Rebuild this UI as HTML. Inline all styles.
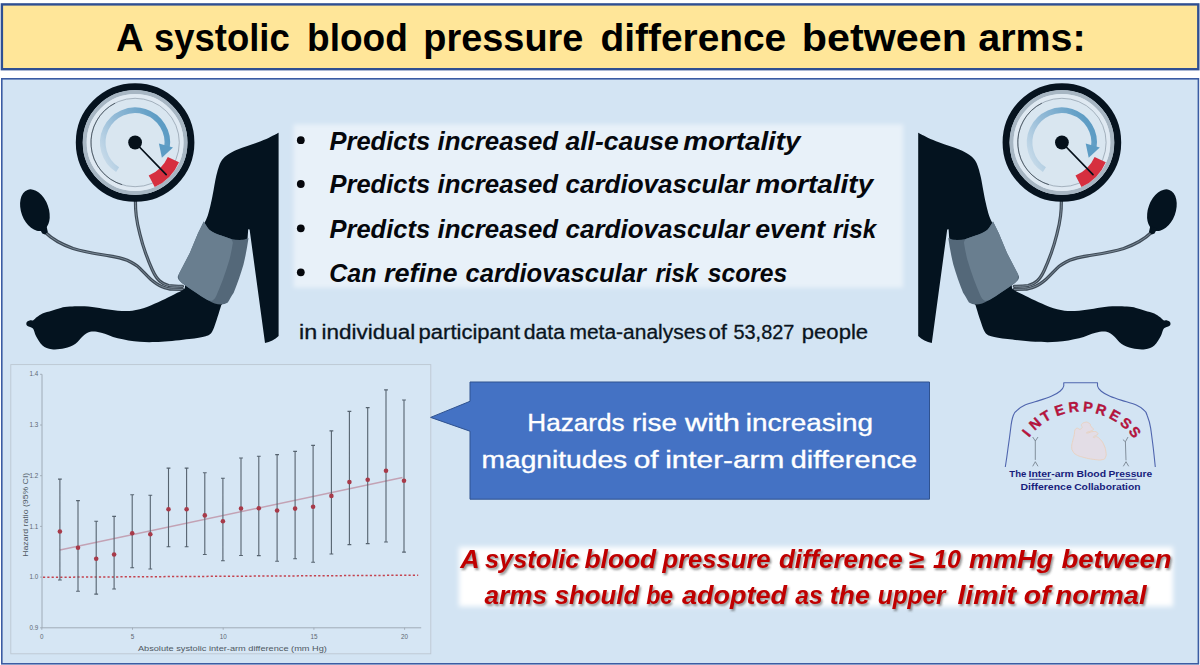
<!DOCTYPE html>
<html lang="en">
<head>
<meta charset="utf-8">
<title>A systolic blood pressure difference between arms</title>
<style>
html,body{margin:0;padding:0;background:#ffffff;}
body{width:1200px;height:665px;overflow:hidden;font-family:"Liberation Sans",sans-serif;}
svg{display:block;position:absolute;left:0;top:0;}
text{font-family:"Liberation Sans",sans-serif;}
</style>
</head>
<body>
<svg width="1200" height="665" viewBox="0 0 1200 665">
<defs>
  <filter id="soft" x="-5%" y="-10%" width="110%" height="120%"><feGaussianBlur stdDeviation="2.2"/></filter>
  <filter id="soft2" x="-5%" y="-20%" width="110%" height="140%"><feGaussianBlur stdDeviation="2.6"/></filter>
  <filter id="tshadow" x="-5%" y="-20%" width="110%" height="150%"><feGaussianBlur stdDeviation="1.1"/></filter>
  <linearGradient id="arrowgrad" gradientUnits="userSpaceOnUse" x1="-30" y1="20" x2="30" y2="-10">
    <stop offset="0" stop-color="#c6dae9"/>
    <stop offset="0.42" stop-color="#94bbd7"/>
    <stop offset="1" stop-color="#5d9cc4"/>
  </linearGradient>

  <!-- GAUGE (centred on 0,0) -->
  <g id="gauge">
    <circle r="55.8" fill="#d9e6f0" stroke="#06131f" stroke-width="7"/>
    <circle r="50.4" fill="none" stroke="#a7b6c3" stroke-width="4"/>
    <circle r="46.6" fill="none" stroke="#dfe9f2" stroke-width="3.6"/>
    <circle r="44.2" fill="none" stroke="#8e9ba8" stroke-width="0.7"/>
    <path d="M -20,-39.4 A 44.2 44.2 0 0 0 -13,42.2" fill="none" stroke="#3b4753" stroke-width="0.8"/>
    <!-- blue arrow -->
    <path d="M -17.5,27.2 A 32.3 32.3 0 1 1 31.8,5.5" fill="none" stroke="url(#arrowgrad)" stroke-width="5.6"/>
    <path d="M 23.8,1 L 37.9,4.9 L 26.8,15.2 Z" fill="#5d9cc4"/>
    <!-- red zone -->
    <path d="M 32.7,14.6 A 35.8 35.8 0 0 1 13.6,33.1 L 19.6,44.6 A 48.2 48.2 0 0 0 43.9,19.8 Z" fill="#d62f3f"/>
    <!-- needle -->
    <path d="M 0,0 L 31.1,32.2" stroke="#05101a" stroke-width="1.7" stroke-linecap="round"/>
    <circle r="6.9" fill="#05101a"/>
  </g>

  <!-- ARM (left version, absolute coordinates) -->
  <g id="arm">
    <!-- tubes -->
    <g fill="none" stroke-linecap="round">
      <path id="tubeA" d="M 45.5,232.5 C 52,239 62,244.5 73.1,248.5 C 86,252.5 98,254 109.2,255.8 C 117,257 123,258.5 127.2,260.3 C 133,263 137,265.5 139.9,268.4 C 144,272.5 147,276 150.7,279.2 C 154.5,282.5 158,285 161.5,286.4 C 166,288.3 170,289.1 172.3,289.1 L 182.5,289.4" stroke="#3f4b57" stroke-width="3.2"/>
      <path d="M 45.5,232.5 C 52,239 62,244.5 73.1,248.5 C 86,252.5 98,254 109.2,255.8 C 117,257 123,258.5 127.2,260.3 C 133,263 137,265.5 139.9,268.4 C 144,272.5 147,276 150.7,279.2 C 154.5,282.5 158,285 161.5,286.4 C 166,288.3 170,289.1 172.3,289.1 L 182.5,289.4" stroke="#8898a6" stroke-width="0.8"/>
      <path d="M 135.4,200 C 135.4,206 135.6,211 136.3,216.1 C 137,222 138.3,228 139.9,234.1 C 141.5,240.5 143.2,246.5 145.3,252.2 C 147.5,258.5 149.8,264.5 152.5,270.2 C 154.5,274.5 156.8,278.3 159.7,281 C 162.3,283.4 165.3,284.8 168.7,285.5 C 173,286.2 177,286.3 182.5,286.3" stroke="#3f4b57" stroke-width="3.2"/>
      <path d="M 135.4,200 C 135.4,206 135.6,211 136.3,216.1 C 137,222 138.3,228 139.9,234.1 C 141.5,240.5 143.2,246.5 145.3,252.2 C 147.5,258.5 149.8,264.5 152.5,270.2 C 154.5,274.5 156.8,278.3 159.7,281 C 162.3,283.4 165.3,284.8 168.7,285.5 C 173,286.2 177,286.3 182.5,286.3" stroke="#8898a6" stroke-width="0.8"/>
    </g>
    <!-- bulb -->
    <g fill="#04131f">
      <ellipse cx="34.9" cy="210.2" rx="13.7" ry="21.6" transform="rotate(-20 34.9 210.2)"/>
      <path d="M 39.5,228.5 L 46.5,226 L 47.8,232 L 45,234.6 L 42.3,233.6 Z"/>
    </g>
    <!-- body -->
    <path fill="#04131f" d="M 278.6,132.8 C 277.0,133.6 272.4,136.1 269.0,137.7 C 265.6,139.3 261.6,140.9 258.0,142.3 C 254.4,143.7 250.8,144.8 247.3,146.0 C 243.8,147.2 240.2,148.4 237.0,149.8 C 233.8,151.2 230.5,152.8 228.0,154.5 C 225.5,156.2 223.6,157.8 222.0,160.0 C 220.4,162.2 219.5,164.7 218.5,167.7 C 217.5,170.7 216.6,174.4 215.8,178.0 C 215.0,181.6 214.5,185.2 213.7,189.4 C 212.9,193.6 212.0,198.6 211.0,203.0 C 210.0,207.4 208.8,212.5 207.7,215.8 C 206.6,219.1 205.0,221.8 204.5,223.0 L 185,286 C 184.8,286.6 185.4,288.2 183.7,289.6 C 181.9,291.0 178.2,292.4 174.5,294.2 C 170.8,296.0 166.3,298.5 161.7,300.6 C 157.1,302.7 151.9,305.3 147.0,307.0 C 142.1,308.7 137.2,310.1 132.3,310.7 C 127.4,311.3 122.6,311.0 117.7,310.7 C 112.8,310.4 107.9,309.5 103.0,308.8 C 98.1,308.1 93.8,307.0 88.3,306.6 C 82.8,306.2 74.6,306.4 70.0,306.6 C 65.4,306.8 63.8,307.2 60.8,307.9 C 57.8,308.6 54.8,309.8 51.7,310.7 C 48.7,311.6 45.0,312.3 42.5,313.4 C 40.0,314.5 38.5,316.0 37.0,317.1 C 35.5,318.2 34.5,319.6 33.3,320.2 C 32.1,320.8 30.8,320.1 29.7,320.4 C 28.6,320.7 27.6,321.2 27.0,321.8 C 26.4,322.4 26.3,323.2 26.3,323.9 C 26.3,324.6 26.7,325.3 27.2,325.8 C 27.7,326.3 28.3,326.3 29.3,326.8 C 30.3,327.3 32.2,327.4 33.3,329.0 C 34.4,330.6 34.6,333.6 36.1,336.3 C 37.6,339.1 39.9,343.4 42.5,345.5 C 45.1,347.6 48.0,348.7 51.7,349.2 C 55.4,349.7 60.5,349.2 64.5,348.2 C 68.5,347.3 72.5,345.7 75.5,343.7 C 78.5,341.7 80.3,338.3 82.8,336.3 C 85.2,334.3 87.1,332.4 90.2,331.8 C 93.3,331.1 96.6,331.6 101.2,332.7 C 105.8,333.8 111.3,336.7 117.7,338.2 C 124.1,339.7 132.4,341.2 139.7,341.8 C 147.0,342.4 153.4,342.2 161.7,341.8 C 169.9,341.4 181.9,340.0 189.2,339.1 C 196.5,338.2 201.9,337.5 205.7,336.3 C 209.5,335.1 210.3,334.5 212.1,331.8 C 213.9,329.0 215.2,324.2 216.7,319.8 C 218.2,315.4 220.5,307.6 221.2,305.2 L 226,300 L 247.6,238 L 248.2,229.2 L 249.6,229.5 L 265,343 C 270,342 275,339.5 278.6,336 Z"/>
    <!-- cuff -->
    <path fill="#546879" d="M 203.8,221.6 C 205.5,224.5 207,227.5 209.6,229.9 C 213,232.5 217,234.2 221.2,235.6 C 224.5,236.8 228,238 231.1,238.9 C 235,239.7 239,240.2 242.7,239.8 C 245,239.5 247,238.9 248.5,238.1 C 247.2,247 245.6,256 243.5,264.6 C 240.8,274 237.4,283.5 233.7,292.7 C 231.3,296.2 229.7,299.5 227.8,302.6 C 225.8,303.8 223.5,304.5 221.2,304.6 C 219,304.6 216.7,304.2 214.6,303.5 C 210,301.5 205.5,298.8 201.4,296 C 195.8,292.5 190.2,289 184.8,285.3 C 182.7,283.8 180.7,282.2 179,280.3 C 177.9,279 177.5,277.5 177.9,276.2 C 178.1,275.3 178.5,274.5 179,273.7 L 189.8,253 L 198,233.2 Z"/>
    <path fill="#697e8f" d="M 203.8,221.6 C 205.5,224.5 207,227.5 209.6,229.9 C 213,232.5 217,234.2 221.2,235.6 C 224.5,236.8 228,238 231.1,238.9 C 232.3,240 232.8,241.5 232.8,243.1 C 232,248.7 230.8,254.2 229.5,259.6 C 227.5,266.3 225.3,273 222.9,279.5 C 220.8,285.1 218.6,290.6 216.2,296 C 215.4,297.8 214.3,299.2 212.9,300.2 C 211,301.2 209,300.8 207.3,300 C 203,297.6 199,294.8 195,292 C 190.5,289 186,286 182,282.8 C 180.3,281.3 179.2,279.8 179,278 C 178.8,276.5 178.7,275 179,273.7 L 189.8,253 L 198,233.2 Z"/>
  </g>
</defs>

<!-- page -->
<rect width="1200" height="665" fill="#ffffff"/>

<!-- title bar -->
<rect x="1.9" y="4.4" width="1196.4" height="64.8" fill="#ffe699" stroke="#2f4f93" stroke-width="2.4"/>
<!-- SECTION: title -->
<g font-size="38.5" font-weight="700" font-style="normal" fill="#000000">
<text transform="translate(116.01 51.3) scale(0.9903 1)">A</text>
<text transform="translate(154.08 51.3) scale(0.9467 1)">systolic</text>
<text transform="translate(307.09 51.3) scale(0.9624 1)">blood</text>
<text transform="translate(423.29 51.3) scale(0.9843 1)">pressure</text>
<text transform="translate(600.49 51.3) scale(1.0097 1)">difference</text>
<text transform="translate(801.82 51.3) scale(1.0720 1)">between</text>
<text transform="translate(978.22 51.3) scale(1.0250 1)">arms:</text>
</g>
<!-- END: title -->

<!-- main panel -->
<rect x="1.8" y="78.8" width="1196.6" height="585" fill="#d3e4f3" stroke="#3b5ca3" stroke-width="1.6"/>

<!-- SECTION: arms -->
<use href="#arm"/>
<use href="#gauge" transform="translate(135.1 142.5)"/>
<use href="#arm" transform="translate(1196.8 0) scale(-1 1)"/>
<use href="#gauge" transform="translate(1061.9 142.5)"/>

<!-- SECTION: bullets -->
<rect x="293.6" y="124.3" width="609.6" height="163.4" fill="#ffffff" fill-opacity="0.48" filter="url(#soft)"/>
<g fill="#05070c">
<circle cx="300.8" cy="140.2" r="3.9"/><circle cx="300.8" cy="184" r="3.9"/><circle cx="300.8" cy="228.3" r="3.9"/><circle cx="300.8" cy="272.3" r="3.9"/>
</g>
<!--T--><g font-size="25" font-weight="700" font-style="italic" fill="#05070c">
<text transform="translate(329.49 149.6) scale(1.0206 1)">Predicts</text>
<text transform="translate(437.48 149.6) scale(1.0326 1)">increased</text>
<text transform="translate(565.49 149.6) scale(1.0590 1)">all-cause</text>
<text transform="translate(683.19 149.6) scale(1.1118 1)">mortality</text>
<text transform="translate(329.49 193.4) scale(1.0206 1)">Predicts</text>
<text transform="translate(437.48 193.4) scale(1.0326 1)">increased</text>
<text transform="translate(565.47 193.4) scale(1.0413 1)">cardiovascular</text>
<text transform="translate(755.44 193.4) scale(1.1151 1)">mortality</text>
<text transform="translate(329.49 238.0) scale(1.0206 1)">Predicts</text>
<text transform="translate(437.48 238.0) scale(1.0326 1)">increased</text>
<text transform="translate(565.47 238.0) scale(1.0413 1)">cardiovascular</text>
<text transform="translate(755.20 238.0) scale(1.0728 1)">event</text>
<text transform="translate(833.01 238.0) scale(0.9721 1)">risk</text>
<text transform="translate(329.25 281.6) scale(1.0000 1)">Can</text>
<text transform="translate(383.96 281.6) scale(1.0821 1)">refine</text>
<text transform="translate(465.48 281.6) scale(1.0226 1)">cardiovascular</text>
<text transform="translate(655.52 281.6) scale(0.9609 1)">risk</text>
<text transform="translate(707.75 281.6) scale(0.9862 1)">scores</text>
</g>
<g font-size="19.4" font-weight="400" font-style="normal" fill="#0a1420" stroke="#0a1420" stroke-width="0.3">
<text transform="translate(299.00 338.8) scale(1.2000 1)">in</text>
<text transform="translate(321.55 338.8) scale(1.1597 1)">individual</text>
<text transform="translate(418.58 338.8) scale(1.1364 1)">participant</text>
<text transform="translate(523.68 338.8) scale(1.0946 1)">data</text>
<text transform="translate(569.40 338.8) scale(1.0827 1)">meta-analyses</text>
<text transform="translate(708.39 338.8) scale(1.1452 1)">of</text>
<text transform="translate(733.48 338.8) scale(1.0261 1)">53,827</text>
<text transform="translate(801.83 338.8) scale(1.1384 1)">people</text>
</g><!--/T-->
<!-- END: bullets -->
<!-- SECTION: chart -->
<g id="chart">
<rect x="10.8" y="364.6" width="420" height="289.2" fill="#d6e6f4" stroke="#bcc7d1" stroke-width="0.9"/>
<path d="M 42,374.3 V 627.8 H 421.2" fill="none" stroke="#9aa5b0" stroke-width="0.9"/>
<text x="38.3" y="376.4" font-size="6.3" fill="#5d6872" text-anchor="end">1.4</text>
<text x="38.3" y="427.1" font-size="6.3" fill="#5d6872" text-anchor="end">1.3</text>
<text x="38.3" y="477.8" font-size="6.3" fill="#5d6872" text-anchor="end">1.2</text>
<text x="38.3" y="528.5" font-size="6.3" fill="#5d6872" text-anchor="end">1.1</text>
<text x="38.3" y="579.2" font-size="6.3" fill="#5d6872" text-anchor="end">1.0</text>
<text x="38.3" y="629.9" font-size="6.3" fill="#5d6872" text-anchor="end">0.9</text>
<text x="41.8" y="638.6" font-size="6.3" fill="#5d6872" text-anchor="middle">0</text>
<text x="132.5" y="638.6" font-size="6.3" fill="#5d6872" text-anchor="middle">5</text>
<text x="223.2" y="638.6" font-size="6.3" fill="#5d6872" text-anchor="middle">10</text>
<text x="313.9" y="638.6" font-size="6.3" fill="#5d6872" text-anchor="middle">15</text>
<text x="404.6" y="638.6" font-size="6.3" fill="#5d6872" text-anchor="middle">20</text>
<path d="M 40,374.3 H 42 M 40,425.0 H 42 M 40,475.7 H 42 M 40,526.4 H 42 M 40,577.1 H 42 M 40,627.8 H 42 M 41.8,627.8 V 629.8 M 132.5,627.8 V 629.8 M 223.2,627.8 V 629.8 M 313.9,627.8 V 629.8 M 404.6,627.8 V 629.8" stroke="#9aa5b0" stroke-width="0.8" fill="none"/>
<text x="232.4" y="651" font-size="8" fill="#4f5963" text-anchor="middle" textLength="189" lengthAdjust="spacingAndGlyphs">Absolute systolic inter-arm difference (mm Hg)</text>
<text transform="translate(27.6 514.8) rotate(-90)" font-size="8" fill="#4f5963" text-anchor="middle" textLength="84" lengthAdjust="spacingAndGlyphs">Hazard ratio (95% CI)</text>
<path d="M 59.9,549.9 L 402.5,477.6" stroke="#c3a2b4" stroke-width="1.5" fill="none"/>
<path d="M 43,577.3 L 418.2,575.2" stroke="#c4434f" stroke-width="1.5" stroke-dasharray="2.2 2.1" fill="none"/>
<path d="M 59.9,479.1 V 580.0 M 58.0,479.1 H 61.8 M 58.0,580.0 H 61.8 M 78.0,500.6 V 591.3 M 76.1,500.6 H 79.9 M 76.1,591.3 H 79.9 M 96.2,521.3 V 594.1 M 94.3,521.3 H 98.1 M 94.3,594.1 H 98.1 M 114.1,516.4 V 589.0 M 112.2,516.4 H 116.0 M 112.2,589.0 H 116.0 M 132.2,494.7 V 567.8 M 130.3,494.7 H 134.1 M 130.3,567.8 H 134.1 M 150.3,495.2 V 569.0 M 148.4,495.2 H 152.2 M 148.4,569.0 H 152.2 M 168.5,468.1 V 546.8 M 166.6,468.1 H 170.4 M 166.6,546.8 H 170.4 M 186.6,468.1 V 546.8 M 184.7,468.1 H 188.5 M 184.7,546.8 H 188.5 M 204.8,472.7 V 554.5 M 202.9,472.7 H 206.7 M 202.9,554.5 H 206.7 M 222.9,478.2 V 560.8 M 221.0,478.2 H 224.8 M 221.0,560.8 H 224.8 M 241.0,458.0 V 555.5 M 239.1,458.0 H 242.9 M 239.1,555.5 H 242.9 M 258.8,456.2 V 555.6 M 256.9,456.2 H 260.7 M 256.9,555.6 H 260.7 M 277.1,454.6 V 561.3 M 275.2,454.6 H 279.0 M 275.2,561.3 H 279.0 M 295.1,451.4 V 558.8 M 293.2,451.4 H 297.0 M 293.2,558.8 H 297.0 M 313.1,445.4 V 562.2 M 311.2,445.4 H 315.0 M 311.2,562.2 H 315.0 M 331.4,430.9 V 554.0 M 329.5,430.9 H 333.3 M 329.5,554.0 H 333.3 M 349.4,411.4 V 544.6 M 347.5,411.4 H 351.3 M 347.5,544.6 H 351.3 M 367.7,407.6 V 543.6 M 365.8,407.6 H 369.6 M 365.8,543.6 H 369.6 M 386.0,389.9 V 542.0 M 384.1,389.9 H 387.9 M 384.1,542.0 H 387.9 M 404.0,400.0 V 552.1 M 402.1,400.0 H 405.9 M 402.1,552.1 H 405.9" stroke="#56636f" stroke-width="1.1" fill="none"/>
<circle cx="59.9" cy="531.5" r="2.3" fill="#a83a49"/>
<circle cx="78.0" cy="547.8" r="2.3" fill="#a83a49"/>
<circle cx="96.2" cy="558.8" r="2.3" fill="#a83a49"/>
<circle cx="114.1" cy="554.5" r="2.3" fill="#a83a49"/>
<circle cx="132.2" cy="533.3" r="2.3" fill="#a83a49"/>
<circle cx="150.3" cy="534.3" r="2.3" fill="#a83a49"/>
<circle cx="168.5" cy="509.2" r="2.3" fill="#a83a49"/>
<circle cx="186.6" cy="509.2" r="2.3" fill="#a83a49"/>
<circle cx="204.8" cy="515.4" r="2.3" fill="#a83a49"/>
<circle cx="222.9" cy="521.3" r="2.3" fill="#a83a49"/>
<circle cx="241.0" cy="508.5" r="2.3" fill="#a83a49"/>
<circle cx="258.8" cy="508.3" r="2.3" fill="#a83a49"/>
<circle cx="277.1" cy="510.5" r="2.3" fill="#a83a49"/>
<circle cx="295.1" cy="508.6" r="2.3" fill="#a83a49"/>
<circle cx="313.1" cy="506.7" r="2.3" fill="#a83a49"/>
<circle cx="331.4" cy="495.9" r="2.3" fill="#a83a49"/>
<circle cx="349.4" cy="482.1" r="2.3" fill="#a83a49"/>
<circle cx="367.7" cy="479.8" r="2.3" fill="#a83a49"/>
<circle cx="386.0" cy="470.7" r="2.3" fill="#a83a49"/>
<circle cx="404.0" cy="480.8" r="2.3" fill="#a83a49"/>
</g>
<!-- END: chart -->
<!-- SECTION: callout -->
<path d="M 470,382 H 929.5 V 499.2 H 470 V 431.2 L 430.6,417.4 L 470,401.3 Z" fill="#4472c4" stroke="#2f528f" stroke-width="1"/>
<!--T--><g font-size="24.2" font-weight="400" font-style="normal" fill="#ffffff" stroke="#ffffff" stroke-width="0.35">
<text transform="translate(527.34 431.3) scale(1.0802 1)">Hazards</text>
<text transform="translate(632.02 431.3) scale(1.1507 1)">rise</text>
<text transform="translate(685.00 431.3) scale(1.2771 1)">with</text>
<text transform="translate(745.77 431.3) scale(1.1538 1)">increasing</text>
<text transform="translate(481.50 467.5) scale(1.1650 1)">magnitudes</text>
<text transform="translate(633.77 467.5) scale(1.2338 1)">of</text>
<text transform="translate(665.15 467.5) scale(1.2320 1)">inter-arm</text>
<text transform="translate(790.81 467.5) scale(1.1928 1)">difference</text>
</g><!--/T-->
<!-- END: callout -->
<!-- SECTION: logo -->
<g id="logo">
<g fill="none" stroke="#4f65ae" stroke-width="1.1" stroke-linejoin="round">
<path d="M 1005.3,467 C 1006.3,461 1007.2,454.5 1008,448.3 C 1009,441.5 1009.9,435 1010.7,428.3 C 1011.2,423.5 1011.8,419.5 1013.3,415.5 C 1014.5,412.5 1015.8,411 1017.5,410 C 1020,407.8 1022.3,406.2 1025,405 C 1029.5,403.2 1034.2,402 1038.75,400.6 C 1043,399.3 1047.2,398 1051.25,396.25 C 1054.5,394.9 1057.5,393.4 1060,391.25 C 1062,389.6 1063.4,388 1063.75,386 V 382.8 H 1097.5 V 386 C 1097.9,388 1099.3,389.6 1101.25,391.25 C 1103.8,393.4 1106.8,394.9 1110,396.25 C 1114,398 1118.3,399.3 1122.5,400.6 C 1127,402 1131.8,403.2 1136.25,405 C 1139,406.2 1141.3,407.8 1143.75,410 C 1145.5,411 1146.3,412.5 1147.2,415.5 C 1148.8,419.5 1150,423.5 1150.7,428.3 C 1151.6,435 1152.5,441.5 1153.3,448.3 C 1154,454.5 1154.7,461 1155.3,467"/>
</g>
<g fill="none" stroke="#5f6a75" stroke-width="0.7">
<path d="M 1032.7,437 L 1035.3,441 L 1038,437 M 1035.3,441 V 459.9 M 1032.7,466.3 L 1035.3,461.7 L 1038,466.3"/>
<path d="M 1122.9,439.6 L 1125.4,441.8 L 1128,437 M 1125.4,441.8 L 1126,460.3 M 1123.3,466.3 L 1126,461.7 L 1128.7,466.3"/>
</g>
<path d="M 1086.3,422.1 C 1084.9,422.3 1083.9,422.4 1082.6,423.3 C 1081.3,424.2 1081.5,424.4 1081.4,425.5 C 1081.3,426.6 1082.6,426.4 1082.2,427.4 C 1081.8,428.4 1081.2,429.1 1079.9,429.3 C 1078.6,429.5 1078.6,428.0 1077.3,428.2 C 1076.0,428.4 1075.8,428.3 1075.0,430.0 C 1074.2,431.7 1074.9,431.7 1074.3,434.5 C 1073.7,437.3 1073.5,437.4 1072.8,440.6 C 1072.1,443.8 1071.7,443.8 1071.7,446.6 C 1071.7,449.4 1071.5,448.9 1072.8,451.1 C 1074.1,453.3 1073.5,453.1 1076.5,454.8 C 1079.5,456.5 1079.5,456.3 1084.1,457.5 C 1088.7,458.7 1089.0,458.8 1093.8,459.4 C 1098.6,460.0 1099.0,460.3 1102.1,459.7 C 1105.2,459.1 1104.5,459.2 1105.5,457.1 C 1106.5,455.0 1106.3,455.0 1105.9,451.8 C 1105.5,448.6 1105.4,448.3 1104.0,445.1 C 1102.6,441.9 1102.5,442.0 1100.6,439.8 C 1098.7,437.6 1098.5,437.4 1096.8,436.8 C 1095.1,436.2 1095.0,437.7 1094.2,437.6 C 1093.4,437.5 1092.9,437.2 1093.8,436.4 C 1094.7,435.6 1096.8,435.6 1097.6,434.5 C 1098.4,433.4 1098.0,433.1 1096.8,432.3 C 1095.6,431.5 1095.5,431.3 1093.1,431.5 C 1090.7,431.7 1089.4,432.8 1087.8,433.0 C 1086.2,433.2 1085.9,433.0 1087.1,432.3 C 1088.3,431.6 1090.7,431.4 1092.3,430.4 C 1093.9,429.4 1093.5,429.6 1093.1,428.5 C 1092.7,427.4 1091.6,427.5 1090.8,426.3 C 1090.0,425.1 1090.9,425.0 1090.1,424.0 C 1089.3,423.0 1088.8,423.0 1087.8,422.5 C 1086.8,422.0 1087.7,421.9 1086.3,422.1 Z" fill="#e3dde6" stroke="#ead0bd" stroke-width="0.9" stroke-linejoin="round"/>
<g font-size="14.4" font-weight="700" fill="#c1123a" stroke="#8c1846" stroke-width="0.35" text-anchor="middle">
<text transform="translate(1030.30 436.21) rotate(-51.6)">I</text>
<text transform="translate(1038.47 427.64) rotate(-41.1)">N</text>
<text transform="translate(1048.26 420.60) rotate(-30.4)">T</text>
<text transform="translate(1061.01 414.87) rotate(-18.0)">E</text>
<text transform="translate(1074.29 412.05) rotate(-5.95)">R</text>
<text transform="translate(1087.54 412.03) rotate(5.8)">P</text>
<text transform="translate(1099.70 414.46) rotate(16.8)">R</text>
<text transform="translate(1112.47 419.87) rotate(29.1)">E</text>
<text transform="translate(1122.85 427.06) rotate(40.3)">S</text>
<text transform="translate(1131.00 435.33) rotate(50.6)">S</text>
</g>
<g font-size="9.6" font-weight="700" fill="#171d7c">
<text transform="translate(1009.30 477.4) scale(0.9970 1)">The</text>
<text transform="translate(1028.48 477.4) scale(1.0932 1)">Inter-arm</text>
<text transform="translate(1076.48 477.4) scale(1.0874 1)">Blood</text>
<text transform="translate(1108.50 477.4) scale(1.0675 1)">Pressure</text>
<text transform="translate(1020.48 489.7) scale(1.0929 1)">Difference</text>
<text transform="translate(1074.16 489.7) scale(1.0749 1)">Collaboration</text>
</g>
<path d="M 1029.3,479.3 H 1051.3 M 1116,479.3 H 1136.7" stroke="#171d7c" stroke-width="0.8"/>
</g>
<!-- END: logo -->
<!-- SECTION: conclusion -->
<rect x="459" y="547" width="714" height="59.5" fill="#ffffff" filter="url(#soft2)"/>
<g font-size="25" font-weight="700" font-style="italic" fill="#4a4a4a" fill-opacity="0.6" filter="url(#tshadow)" transform="translate(1.5 1.7)">
<text transform="translate(460.29 567.8) scale(1.0746 1)">A</text>
<text transform="translate(485.00 567.8) scale(1.0135 1)">systolic</text>
<text transform="translate(584.47 567.8) scale(1.0551 1)">blood</text>
<text transform="translate(662.51 567.8) scale(1.0237 1)">pressure</text>
<text transform="translate(778.97 567.8) scale(1.0404 1)">difference</text>
<text transform="translate(908.36 567.8) scale(1.1400 1)">≥</text>
<text transform="translate(933.00 567.8) scale(1.0000 1)">10</text>
<text transform="translate(968.96 567.8) scale(1.0814 1)">mmHg</text>
<text transform="translate(1061.45 567.8) scale(1.1015 1)">between</text>
<text transform="translate(484.54 604.4) scale(1.0462 1)">arms</text>
<text transform="translate(554.74 604.4) scale(1.0305 1)">should</text>
<text transform="translate(646.24 604.4) scale(0.9214 1)">be</text>
<text transform="translate(681.98 604.4) scale(1.0797 1)">adopted</text>
<text transform="translate(795.25 604.4) scale(0.9906 1)">as</text>
<text transform="translate(829.68 604.4) scale(1.0699 1)">the</text>
<text transform="translate(877.78 604.4) scale(0.9748 1)">upper</text>
<text transform="translate(957.43 604.4) scale(1.1401 1)">limit</text>
<text transform="translate(1023.65 604.4) scale(1.1313 1)">of</text>
<text transform="translate(1055.45 604.4) scale(1.0931 1)">normal</text>
</g>
<g font-size="25" font-weight="700" font-style="italic" fill="#c00000">
<text transform="translate(460.29 567.8) scale(1.0746 1)">A</text>
<text transform="translate(485.00 567.8) scale(1.0135 1)">systolic</text>
<text transform="translate(584.47 567.8) scale(1.0551 1)">blood</text>
<text transform="translate(662.51 567.8) scale(1.0237 1)">pressure</text>
<text transform="translate(778.97 567.8) scale(1.0404 1)">difference</text>
<text transform="translate(908.36 567.8) scale(1.1400 1)">≥</text>
<text transform="translate(933.00 567.8) scale(1.0000 1)">10</text>
<text transform="translate(968.96 567.8) scale(1.0814 1)">mmHg</text>
<text transform="translate(1061.45 567.8) scale(1.1015 1)">between</text>
<text transform="translate(484.54 604.4) scale(1.0462 1)">arms</text>
<text transform="translate(554.74 604.4) scale(1.0305 1)">should</text>
<text transform="translate(646.24 604.4) scale(0.9214 1)">be</text>
<text transform="translate(681.98 604.4) scale(1.0797 1)">adopted</text>
<text transform="translate(795.25 604.4) scale(0.9906 1)">as</text>
<text transform="translate(829.68 604.4) scale(1.0699 1)">the</text>
<text transform="translate(877.78 604.4) scale(0.9748 1)">upper</text>
<text transform="translate(957.43 604.4) scale(1.1401 1)">limit</text>
<text transform="translate(1023.65 604.4) scale(1.1313 1)">of</text>
<text transform="translate(1055.45 604.4) scale(1.0931 1)">normal</text>
</g>
<!-- END: conclusion -->
</svg>
</body>
</html>
